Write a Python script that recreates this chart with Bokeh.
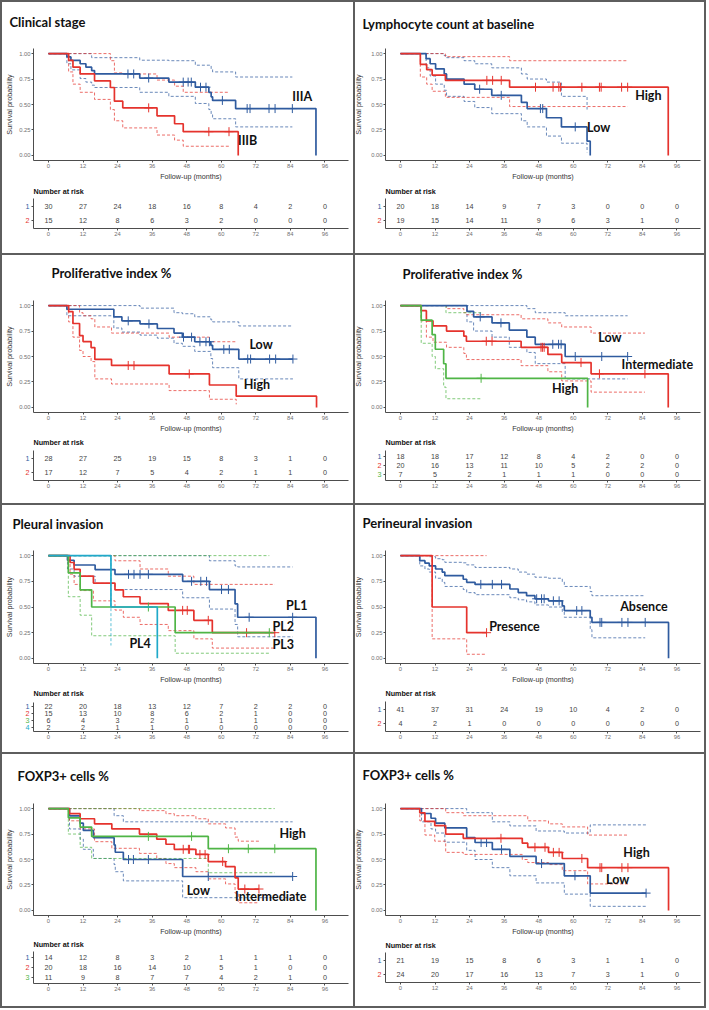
import numpy as np
from bokeh.plotting import figure
from bokeh.models import Range1d, FixedTicker, NumeralTickFormatter, Div
from bokeh.layouts import row, column
from bokeh.embed import file_html
from bokeh.resources import INLINE
from bokeh.core.properties import value

BLUE = "#2f5b9f"
RED = "#e5332d"
GREEN = "#4fb546"
CYAN = "#20a9c9"
RULE = "#5e5e5e"
AXIS = "#4d4d4d"

risk_times = [0, 12, 24, 36, 48, 60, 72, 84, 96]

# ---------------- Clinical stage ----------------
stage_iiia_time = [0, 6.4, 7.8, 11.0, 13.0, 15.0, 16.0, 31.7, 41.8, 51.0, 55.7, 56.5, 57.0, 65.0, 92.9]
stage_iiia_surv = [1.0, 0.967, 0.933, 0.900, 0.867, 0.833, 0.800, 0.760, 0.720, 0.670, 0.620, 0.575, 0.540, 0.460, 0.0]
stage_iiia_upper = [1.0, 1.0, 1.0, 1.0, 1.0, 0.96, 0.96, 0.935, 0.93, 0.886, 0.886, 0.85, 0.82, 0.77, None]
stage_iiia_lower = [1.0, 0.90, 0.84, 0.755, 0.72, 0.69, 0.667, 0.62, 0.58, 0.51, 0.45, 0.40, 0.36, 0.28, None]
stage_iiia_censor = [27.6, 29.6, 34.8, 46.8, 48.5, 49.6, 52.8, 54.7, 60.4, 69.0, 70.0, 76.6, 78.7, 84.7]

stage_iiib_time = [0, 7.0, 8.5, 11.0, 16.0, 21.5, 22.9, 25.8, 37.7, 43.8, 46.8, 65.9]
stage_iiib_surv = [1.0, 0.933, 0.867, 0.800, 0.733, 0.667, 0.533, 0.467, 0.389, 0.311, 0.233, 0.0]
stage_iiib_upper = [1.0, 1.0, 1.0, 1.0, 1.0, 0.93, 0.81, 0.80, 0.74, 0.68, 0.62, None]
stage_iiib_lower = [1.0, 0.82, 0.70, 0.62, 0.55, 0.45, 0.34, 0.27, 0.20, 0.15, 0.09, None]
stage_iiib_censor = [34.8, 55.7, 62.7]

stage_risk_iiia = [30, 27, 24, 18, 16, 8, 4, 2, 0]
stage_risk_iiib = [15, 12, 8, 6, 3, 2, 0, 0, 0]

# ---------------- Lymphocyte count at baseline ----------------
lymph_low_time = [0, 8.9, 10.3, 12.2, 15.2, 16.0, 22.1, 25.8, 31.7, 42.0, 44.0, 50.7, 55.9, 64.8, 65.9]
lymph_low_surv = [1.0, 0.95, 0.90, 0.85, 0.80, 0.75, 0.70, 0.65, 0.59, 0.52, 0.46, 0.37, 0.28, 0.14, 0.0]
lymph_low_upper = [1.0, 1.0, 1.0, 1.0, 0.98, 0.96, 0.93, 0.90, 0.86, 0.80, 0.75, 0.72, 0.58, 0.45, None]
lymph_low_lower = [1.0, 0.86, 0.78, 0.70, 0.64, 0.58, 0.53, 0.47, 0.41, 0.34, 0.28, 0.19, 0.12, 0.03, None]
lymph_low_censor = [27.5, 35.0, 48.6, 49.4, 60.7]

lymph_high_time = [0, 6.9, 9.1, 11.0, 15.6, 37.9, 93.0]
lymph_high_surv = [1.0, 0.895, 0.842, 0.789, 0.737, 0.670, 0.0]
lymph_high_upper = [1.0, 1.0, 1.0, 1.0, 0.97, 0.93, None]
lymph_high_lower = [1.0, 0.77, 0.70, 0.63, 0.57, 0.48, None]
lymph_high_censor = [30.0, 32.0, 35.0, 46.9, 53.0, 55.0, 55.6, 63.0, 69.1, 69.7, 76.8, 78.9]

lymph_risk_low = [20, 18, 14, 9, 7, 3, 0, 0, 0]
lymph_risk_high = [19, 15, 14, 11, 9, 6, 3, 1, 0]

# ---------------- Proliferative index %, two groups ----------------
prolif2_low_time = [0, 6.4, 22.7, 25.5, 31.8, 37.8, 43.6, 46.5, 50.8, 56.4, 57.0, 66.1]
prolif2_low_surv = [1.0, 0.964, 0.890, 0.850, 0.820, 0.775, 0.730, 0.690, 0.645, 0.610, 0.570, 0.475]
prolif2_low_upper = [1.0, 1.0, 1.0, 1.0, 0.975, 0.975, 0.93, 0.92, 0.89, 0.86, 0.84, 0.80]
prolif2_low_lower = [1.0, 0.90, 0.78, 0.74, 0.71, 0.68, 0.63, 0.60, 0.55, 0.48, 0.39, 0.28]
prolif2_low_censor = [27.7, 34.9, 46.9, 49.7, 52.6, 54.7, 55.9, 60.9, 62.8, 69.2, 70.2, 76.8, 78.9, 84.9]

prolif2_high_time = [0, 7.0, 8.5, 10.8, 12.0, 14.8, 16.1, 21.9, 41.9, 55.9, 65.2, 93.1]
prolif2_high_surv = [1.0, 0.941, 0.824, 0.706, 0.647, 0.588, 0.471, 0.412, 0.329, 0.220, 0.110, 0.0]
prolif2_high_upper = [1.0, 1.0, 1.0, 0.93, 0.90, 0.87, 0.79, 0.73, 0.69, 0.645, 0.645, None]
prolif2_high_lower = [1.0, 0.84, 0.69, 0.56, 0.50, 0.45, 0.28, 0.23, 0.165, 0.08, 0.03, None]
prolif2_high_censor = [27.7, 29.7, 48.9]

prolif2_risk_low = [28, 27, 25, 19, 15, 8, 3, 1, 0]
prolif2_risk_high = [17, 12, 7, 5, 4, 2, 1, 1, 0]

# ---------------- Proliferative index %, three groups ----------------
prolif3_low_time = [0, 23.1, 25.4, 31.8, 37.8, 43.9, 46.8, 57.2]
prolif3_low_surv = [1.0, 0.944, 0.889, 0.830, 0.760, 0.690, 0.620, 0.500]
prolif3_low_upper = [1.0, 1.0, 1.0, 1.0, 1.0, 0.97, 0.93, 0.90]
prolif3_low_lower = [1.0, 0.84, 0.75, 0.69, 0.59, 0.54, 0.43, 0.28]
prolif3_low_censor = [27.7, 34.9, 52.9, 54.9, 55.8, 60.7, 69.9, 78.9]

prolif3_mid_time = [0, 7.2, 9.0, 11.3, 16.0, 22.0, 22.9, 41.9, 51.2, 56.0, 66.2, 93.0]
prolif3_mid_surv = [1.0, 0.95, 0.85, 0.80, 0.75, 0.70, 0.65, 0.59, 0.52, 0.44, 0.33, 0.0]
prolif3_mid_upper = [1.0, 1.0, 1.0, 1.0, 0.97, 0.93, 0.91, 0.87, 0.83, 0.79, 0.73, None]
prolif3_mid_lower = [1.0, 0.85, 0.69, 0.64, 0.59, 0.53, 0.47, 0.41, 0.35, 0.26, 0.15, None]
prolif3_mid_censor = [29.8, 31.8, 48.8, 49.3, 49.9, 62.7, 69.1, 84.9]

prolif3_high_time = [0, 7.2, 11.0, 12.1, 15.0, 15.8, 65.0]
prolif3_high_surv = [1.0, 0.857, 0.714, 0.571, 0.429, 0.286, 0.0]
prolif3_high_upper = [1.0, 1.0, 1.0, 1.0, 1.0, 0.93, None]
prolif3_high_lower = [1.0, 0.63, 0.50, 0.38, 0.20, 0.085, None]
prolif3_high_censor = [28.0]

prolif3_risk_low = [18, 18, 17, 12, 8, 4, 2, 0, 0]
prolif3_risk_mid = [20, 16, 13, 11, 10, 5, 2, 2, 0]
prolif3_risk_high = [7, 5, 2, 1, 1, 1, 0, 0, 0]

# ---------------- Pleural invasion ----------------
pleural_pl1_time = [0, 6.6, 8.9, 16.2, 23.1, 46.6, 55.9, 64.8, 65.7, 92.9]
pleural_pl1_surv = [1.0, 0.955, 0.909, 0.864, 0.818, 0.750, 0.670, 0.530, 0.400, 0.0]
pleural_pl1_upper = [1.0, 1.0, 1.0, 1.0, 1.0, 1.0, 0.95, 0.90, 0.89, None]
pleural_pl1_lower = [1.0, 0.87, 0.80, 0.73, 0.67, 0.59, 0.48, 0.33, 0.21, None]
pleural_pl1_censor = [27.8, 29.7, 31.8, 34.7, 49.7, 52.9, 54.9, 60.1, 62.5, 69.7, 84.8]

pleural_pl2_time = [0, 7.5, 8.9, 11.0, 15.6, 23.1, 26.0, 31.8, 41.6, 50.5, 56.9]
pleural_pl2_surv = [1.0, 0.933, 0.867, 0.800, 0.733, 0.667, 0.600, 0.533, 0.467, 0.370, 0.250]
pleural_pl2_upper = [1.0, 1.0, 1.0, 1.0, 1.0, 0.95, 0.95, 0.87, 0.80, 0.72, 0.72]
pleural_pl2_lower = [1.0, 0.82, 0.72, 0.66, 0.56, 0.47, 0.40, 0.33, 0.27, 0.19, 0.10]
pleural_pl2_censor = [46.6, 48.2, 55.5, 68.8, 78.6]

pleural_pl3_time = [0, 6.9, 11.0, 15.0, 44.0]
pleural_pl3_surv = [1.0, 0.833, 0.667, 0.500, 0.250]
pleural_pl3_upper = [1.0, 1.0, 1.0, 1.0, 1.0]
pleural_pl3_lower = [1.0, 0.60, 0.42, 0.22, 0.05]
pleural_pl3_censor = [34.7, 76.7]

pleural_pl4_time = [0, 21.7, 37.8]
pleural_pl4_surv = [1.0, 0.5, 0.0]
pleural_pl4_upper = [1.0, 1.0, None]
pleural_pl4_lower = [1.0, 0.125, None]
pleural_pl4_censor = []

pleural_risk_pl1 = [22, 20, 18, 13, 12, 7, 2, 2, 0]
pleural_risk_pl2 = [15, 13, 10, 8, 6, 2, 1, 0, 0]
pleural_risk_pl3 = [6, 4, 3, 2, 1, 1, 1, 0, 0]
pleural_risk_pl4 = [2, 2, 1, 1, 0, 0, 0, 0, 0]

# ---------------- Perineural invasion ----------------
perineural_abs_time = [0, 6.7, 8.5, 10.0, 12.2, 14.5, 15.4, 21.8, 23.0, 25.9, 38.0, 40.9, 43.8, 46.7,
                       51.4, 56.2, 56.9, 65.9, 66.5, 93.1]
perineural_abs_surv = [1.0, 0.951, 0.927, 0.900, 0.870, 0.840, 0.805, 0.770, 0.740, 0.720, 0.675, 0.640,
                       0.610, 0.580, 0.560, 0.510, 0.465, 0.400, 0.350, 0.0]
perineural_abs_upper = [1.0, 1.0, 1.0, 0.99, 0.97, 0.96, 0.935, 0.93, 0.91, 0.885, 0.87, 0.84, 0.82,
                        0.79, 0.78, 0.745, 0.70, 0.65, 0.61, None]
perineural_abs_lower = [1.0, 0.90, 0.87, 0.84, 0.78, 0.74, 0.70, 0.67, 0.64, 0.62, 0.59, 0.57, 0.55,
                        0.52, 0.50, 0.45, 0.40, 0.28, 0.20, None]
perineural_abs_censor = [27.9, 31.9, 35.1, 47.3, 49.0, 49.9, 53.1, 55.1, 61.2, 63.0, 69.3, 69.9,
                         76.9, 79.0, 85.0]

perineural_pres_time = [0, 11.0, 23.0]
perineural_pres_surv = [1.0, 0.5, 0.25]
perineural_pres_upper = [1.0, 1.0, 1.0]
perineural_pres_lower = [1.0, 0.19, 0.04]
perineural_pres_censor = [29.9]

perineural_risk_abs = [41, 37, 31, 24, 19, 10, 4, 2, 0]
perineural_risk_pres = [4, 2, 1, 0, 0, 0, 0, 0, 0]

# ---------------- FOXP3+ cells %, three groups ----------------
foxp3a_low_time = [0, 7.3, 11.0, 12.1, 15.6, 22.8, 23.2, 26.0, 46.6]
foxp3a_low_surv = [1.0, 0.929, 0.857, 0.786, 0.714, 0.643, 0.571, 0.500, 0.333]
foxp3a_low_upper = [1.0, 1.0, 1.0, 1.0, 1.0, 0.93, 0.93, 0.87, 0.87]
foxp3a_low_lower = [1.0, 0.80, 0.70, 0.60, 0.51, 0.45, 0.38, 0.29, 0.125]
foxp3a_low_censor = [27.8, 29.5, 34.7, 55.5, 84.8]

foxp3a_mid_time = [0, 7.3, 11.0, 16.0, 22.0, 31.6, 37.6, 40.8, 43.7, 51.2, 55.5, 61.5, 64.8, 65.9]
foxp3a_mid_surv = [1.0, 0.95, 0.90, 0.85, 0.80, 0.75, 0.70, 0.65, 0.60, 0.55, 0.48, 0.43, 0.32, 0.21]
foxp3a_mid_upper = [1.0, 1.0, 1.0, 1.0, 1.0, 0.98, 0.98, 0.95, 0.93, 0.90, 0.85, 0.81, 0.72, 0.68]
foxp3a_mid_lower = [1.0, 0.88, 0.80, 0.675, 0.61, 0.56, 0.51, 0.46, 0.42, 0.38, 0.31, 0.26, 0.17, 0.075]
foxp3a_mid_censor = [46.8, 48.6, 49.0, 52.6, 54.4, 60.5, 68.2, 73.1]

foxp3a_high_time = [0, 6.9, 11.0, 15.0, 55.5, 92.9]
foxp3a_high_surv = [1.0, 0.909, 0.818, 0.727, 0.606, 0.0]
foxp3a_high_upper = [1.0, 1.0, 1.0, 1.0, 1.0, None]
foxp3a_high_lower = [1.0, 0.75, 0.62, 0.51, 0.37, None]
foxp3a_high_censor = [34.7, 49.7, 62.5, 69.4, 78.6]

foxp3a_risk_low = [14, 12, 8, 3, 2, 1, 1, 1, 0]
foxp3a_risk_mid = [20, 18, 16, 14, 10, 5, 1, 0, 0]
foxp3a_risk_high = [11, 9, 8, 7, 7, 4, 2, 1, 0]

# ---------------- FOXP3+ cells %, two groups ----------------
foxp3b_low_time = [0, 7.3, 10.6, 12.2, 15.4, 23.0, 25.9, 31.9, 38.0, 47.1, 56.9, 65.9]
foxp3b_low_surv = [1.0, 0.952, 0.905, 0.857, 0.810, 0.714, 0.667, 0.600, 0.530, 0.460, 0.340, 0.170]
foxp3b_low_upper = [1.0, 1.0, 1.0, 1.0, 1.0, 0.96, 0.96, 0.87, 0.83, 0.78, 0.76, 0.84]
foxp3b_low_lower = [1.0, 0.87, 0.80, 0.76, 0.67, 0.59, 0.50, 0.42, 0.34, 0.27, 0.16, 0.04]
foxp3b_low_censor = [28.0, 29.9, 35.1, 49.0, 60.6, 85.3]

foxp3b_high_time = [0, 6.7, 8.5, 11.9, 15.7, 21.8, 42.3, 44.2, 51.4, 56.2, 65.0, 93.1]
foxp3b_high_surv = [1.0, 0.958, 0.875, 0.833, 0.750, 0.708, 0.660, 0.620, 0.570, 0.510, 0.420, 0.0]
foxp3b_high_upper = [1.0, 1.0, 1.0, 1.0, 0.96, 0.93, 0.93, 0.88, 0.85, 0.82, 0.74, None]
foxp3b_high_lower = [1.0, 0.88, 0.74, 0.68, 0.57, 0.55, 0.50, 0.47, 0.45, 0.39, 0.26, None]
foxp3b_high_censor = [34.9, 46.7, 50.2, 53.1, 55.1, 63.0, 69.3, 69.9, 76.9, 79.0]

foxp3b_risk_low = [21, 19, 15, 8, 6, 3, 1, 1, 0]
foxp3b_risk_high = [24, 20, 17, 16, 13, 7, 3, 1, 0]

# ---------------- drawing helpers ----------------
XMIN, XMAX = -5.2, 104.2          # plotted time span (months)
FRAME_W = 315                     # pixel width of the time axis
PX_PER_MONTH = FRAME_W / (XMAX - XMIN)
SURV_BOTTOM = 22
TICK_FONT = "5.8px"
SMALL_FONT = "7.2px"
HEAD_FONT = "Lato"


def stratum(time, surv, upper, lower, censor, color):
    return dict(time=time, surv=surv, upper=upper, lower=lower, censor=censor, color=color)


def km_xy(time, surv, censor):
    end = max([time[-1]] + list(censor))
    return list(time) + [end], list(surv) + [surv[-1]]


def ci_xy(time, surv, censor, band):
    stop = max([t for t, s in zip(time, surv) if s > 0] + list(censor))
    xs, ys = [], []
    for t, b in zip(time, band):
        if t <= stop and b is not None:
            xs.append(t)
            ys.append(b)
    xs.append(stop)
    ys.append(ys[-1])
    return xs, ys


def censor_y(time, surv, censor):
    idx = np.searchsorted(np.asarray(time), np.asarray(censor), side="right") - 1
    return [surv[i] for i in idx]


def style_axis(ax):
    ax.axis_line_color = AXIS
    ax.axis_line_width = 1
    ax.major_tick_line_color = AXIS
    ax.major_tick_line_width = 1
    ax.major_tick_out = 2
    ax.major_tick_in = 0
    ax.minor_tick_line_color = None
    ax.major_label_text_font = "Liberation Sans"
    ax.major_label_text_font_size = TICK_FONT
    ax.major_label_text_color = "#707070"
    ax.major_label_standoff = 1


def canvas_fig(width, height, left, y_lo, y_hi):
    """A figure whose drawing area fills the whole canvas; axes sit at fixed data positions."""
    x_lo = XMIN - left / PX_PER_MONTH
    x_hi = XMIN + (width - left) / PX_PER_MONTH
    p = figure(width=width, height=height, x_range=Range1d(x_lo, x_hi),
               y_range=Range1d(y_lo, y_hi), output_backend="svg", toolbar_location=None,
               min_border_left=0, min_border_right=0, min_border_top=0, min_border_bottom=0)
    p.grid.visible = False
    p.outline_line_color = None
    p.background_fill_color = "white"
    p.border_fill_color = "white"
    return p, x_lo


def km_panel(width, height, left, geom, title, strata, tags, risk):
    top, fh = geom["top"], geom["fh"]
    split = top + fh + SURV_BOTTOM
    unit = fh / 1.1

    # ---- survival curves ----
    y_hi = 1.05 + top / unit
    y_lo = -0.05 - SURV_BOTTOM / unit
    ps, x_lo = canvas_fig(width, split, left, y_lo, y_hi)
    xa, ya = ps.xaxis[0], ps.yaxis[0]
    style_axis(xa)
    style_axis(ya)
    xa.fixed_location = -0.05
    xa.bounds = (XMIN, XMAX)
    ya.fixed_location = XMIN
    ya.bounds = (-0.05, 1.05)
    xa.ticker = FixedTicker(ticks=risk_times)
    ya.ticker = FixedTicker(ticks=[0, 0.25, 0.5, 0.75, 1.0])
    ya.formatter = NumeralTickFormatter(format="0.00")
    xa.axis_label = "Follow-up (months)"
    ya.axis_label = "Survival probability"
    for ax in (xa, ya):
        ax.axis_label_text_font = "Liberation Sans"
        ax.axis_label_text_font_size = SMALL_FONT
        ax.axis_label_text_font_style = "normal"
        ax.axis_label_text_color = "#333333"
    xa.axis_label_standoff = 1
    ya.axis_label_standoff = geom["ylab_gap"]

    for st in strata:
        for band in (st["upper"], st["lower"]):
            bx, by = ci_xy(st["time"], st["surv"], st["censor"], band)
            ps.step(bx, by, mode="after", line_color=st["color"], line_width=0.8,
                    line_dash="3 2", line_alpha=0.9)
    for st in strata:
        kx, ky = km_xy(st["time"], st["surv"], st["censor"])
        ps.step(kx, ky, mode="after", line_color=st["color"], line_width=1.7)
        if st["censor"]:
            ps.scatter(st["censor"], censor_y(st["time"], st["surv"], st["censor"]),
                       marker="cross", size=9, line_color=st["color"], line_width=1)

    ps.text(x=tags["x"], y=tags["y"], text=tags["text"], text_font=value(HEAD_FONT),
            text_font_style="bold", text_font_size="12.5px", text_align="left",
            text_baseline="middle", text_color="#111111")

    ps.text(x=[x_lo + geom["title_x"] / PX_PER_MONTH], y=[y_hi - geom["title_base"] / unit],
            text=[title], text_font=value(HEAD_FONT), text_font_style="bold",
            text_font_size="13px", text_align="left", text_baseline="alphabetic",
            text_color="#111111")

    # ---- number-at-risk table ----
    n = len(risk)
    rtop, rh = geom["rtop"], geom["rh"]
    rheight = height - split
    u = rh / (n + 0.2)
    r_top = 0.4 - rtop / u
    r_bot = n + 0.6 + (rheight - rtop - rh) / u
    pr, _ = canvas_fig(width, rheight, left, r_bot, r_top)
    xa, ya = pr.xaxis[0], pr.yaxis[0]
    style_axis(xa)
    style_axis(ya)
    xa.fixed_location = n + 0.6
    xa.bounds = (XMIN, XMAX)
    ya.fixed_location = XMIN
    ya.bounds = (0.4, n + 0.6)
    xa.ticker = FixedTicker(ticks=risk_times)
    ya.ticker = FixedTicker(ticks=list(range(1, n + 1)))
    ya.major_label_overrides = {i: "" for i in range(1, n + 1)}

    xs, ys, txt = [], [], []
    for k, counts in enumerate(risk, start=1):
        xs += risk_times
        ys += [k] * len(risk_times)
        txt += [str(c) for c in counts]
    pr.text(x=xs, y=ys, text=txt, text_font=value("Liberation Sans"), text_font_size=SMALL_FONT,
            text_align="center", text_baseline="middle", text_color="#444444")

    rows = list(range(1, n + 1))
    pr.text(x=[XMIN - 4 / PX_PER_MONTH] * n, y=rows, text=[str(i) for i in rows],
            text_color=[st["color"] for st in strata], text_font=value("Liberation Sans"),
            text_font_size=SMALL_FONT, text_align="right", text_baseline="middle")
    pr.text(x=[XMIN], y=[0.4 - geom["nar_up"] / u], text=["Number at risk"],
            text_font=value("Liberation Sans"), text_font_style="bold",
            text_font_size=SMALL_FONT, text_align="left", text_baseline="middle",
            text_color="#111111")
    return column(ps, pr)


def rule(w, h):
    return Div(text="", width=w, height=h, margin=0, styles={"background-color": RULE})


LW, RW = 351, 349
LL, RL = 31, 30

p1 = km_panel(LW, 251, LL,
              dict(top=46, fh=112, rtop=16, rh=30, nar_up=7, title_x=7, title_base=19, ylab_gap=2),
              "Clinical stage",
              [stratum(stage_iiia_time, stage_iiia_surv, stage_iiia_upper, stage_iiia_lower, stage_iiia_censor, BLUE),
               stratum(stage_iiib_time, stage_iiib_surv, stage_iiib_upper, stage_iiib_lower, stage_iiib_censor, RED)],
              dict(x=[84.7, 65.8], y=[0.58, 0.15], text=["IIIA", "IIIB"]),
              [stage_risk_iiia, stage_risk_iiib])

p2 = km_panel(RW, 251, RL,
              dict(top=46, fh=112, rtop=16, rh=30, nar_up=7, title_x=7, title_base=21, ylab_gap=5),
              "Lymphocyte count at baseline",
              [stratum(lymph_low_time, lymph_low_surv, lymph_low_upper, lymph_low_lower, lymph_low_censor, BLUE),
               stratum(lymph_high_time, lymph_high_surv, lymph_high_upper, lymph_high_lower, lymph_high_censor, RED)],
              dict(x=[81.5, 64.8], y=[0.59, 0.275], text=["High", "Low"]),
              [lymph_risk_low, lymph_risk_high])

p3 = km_panel(LW, 248, LL,
              dict(top=45, fh=112, rtop=16, rh=30, nar_up=8, title_x=49, title_base=17, ylab_gap=2),
              "Proliferative index %",
              [stratum(prolif2_low_time, prolif2_low_surv, prolif2_low_upper, prolif2_low_lower, prolif2_low_censor, BLUE),
               stratum(prolif2_high_time, prolif2_high_surv, prolif2_high_upper, prolif2_high_lower, prolif2_high_censor, RED)],
              dict(x=[69.8, 67.8], y=[0.614, 0.222], text=["Low", "High"]),
              [prolif2_risk_low, prolif2_risk_high])

p4 = km_panel(RW, 248, RL,
              dict(top=45, fh=112, rtop=16, rh=30, nar_up=8, title_x=47, title_base=18, ylab_gap=5),
              "Proliferative index %",
              [stratum(prolif3_low_time, prolif3_low_surv, prolif3_low_upper, prolif3_low_lower, prolif3_low_censor, BLUE),
               stratum(prolif3_mid_time, prolif3_mid_surv, prolif3_mid_upper, prolif3_mid_lower, prolif3_mid_censor, RED),
               stratum(prolif3_high_time, prolif3_high_surv, prolif3_high_upper, prolif3_high_lower, prolif3_high_censor, GREEN)],
              dict(x=[68.7, 76.8, 52.6], y=[0.69, 0.418, 0.19], text=["Low", "Intermediate", "High"]),
              [prolif3_risk_low, prolif3_risk_mid, prolif3_risk_high])

p5 = km_panel(LW, 247, LL,
              dict(top=45, fh=113, rtop=17, rh=29, nar_up=9, title_x=10, title_base=18, ylab_gap=2),
              "Pleural invasion",
              [stratum(pleural_pl1_time, pleural_pl1_surv, pleural_pl1_upper, pleural_pl1_lower, pleural_pl1_censor, BLUE),
               stratum(pleural_pl2_time, pleural_pl2_surv, pleural_pl2_upper, pleural_pl2_lower, pleural_pl2_censor, RED),
               stratum(pleural_pl3_time, pleural_pl3_surv, pleural_pl3_upper, pleural_pl3_lower, pleural_pl3_censor, GREEN),
               stratum(pleural_pl4_time, pleural_pl4_surv, pleural_pl4_upper, pleural_pl4_lower, pleural_pl4_censor, CYAN)],
              dict(x=[82.5, 77.8, 77.8, 28.1], y=[0.516, 0.313, 0.135, 0.145], text=["PL1", "PL2", "PL3", "PL4"]),
              [pleural_risk_pl1, pleural_risk_pl2, pleural_risk_pl3, pleural_risk_pl4])

p6 = km_panel(RW, 247, RL,
              dict(top=45, fh=113, rtop=16, rh=30, nar_up=8, title_x=7, title_base=17, ylab_gap=5),
              "Perineural invasion",
              [stratum(perineural_abs_time, perineural_abs_surv, perineural_abs_upper, perineural_abs_lower, perineural_abs_censor, BLUE),
               stratum(perineural_pres_time, perineural_pres_surv, perineural_pres_upper, perineural_pres_lower, perineural_pres_censor, RED)],
              dict(x=[76.3, 30.8], y=[0.503, 0.308], text=["Absence", "Presence"]),
              [perineural_risk_abs, perineural_risk_pres])

p7 = km_panel(LW, 252, LL,
              dict(top=49, fh=112, rtop=14, rh=32, nar_up=7, title_x=15, title_base=21, ylab_gap=2),
              "FOXP3+ cells %",
              [stratum(foxp3a_low_time, foxp3a_low_surv, foxp3a_low_upper, foxp3a_low_lower, foxp3a_low_censor, BLUE),
               stratum(foxp3a_mid_time, foxp3a_mid_surv, foxp3a_mid_upper, foxp3a_mid_lower, foxp3a_mid_censor, RED),
               stratum(foxp3a_high_time, foxp3a_high_surv, foxp3a_high_upper, foxp3a_high_lower, foxp3a_high_censor, GREEN)],
              dict(x=[80.2, 48.0, 64.8], y=[0.757, 0.197, 0.134], text=["High", "Low", "Intermediate"]),
              [foxp3a_risk_low, foxp3a_risk_mid, foxp3a_risk_high])

p8 = km_panel(RW, 252, RL,
              dict(top=49, fh=112, rtop=15, rh=30, nar_up=7, title_x=7, title_base=20, ylab_gap=5),
              "FOXP3+ cells %",
              [stratum(foxp3b_low_time, foxp3b_low_surv, foxp3b_low_upper, foxp3b_low_lower, foxp3b_low_censor, BLUE),
               stratum(foxp3b_high_time, foxp3b_high_surv, foxp3b_high_upper, foxp3b_high_lower, foxp3b_high_censor, RED)],
              dict(x=[77.4, 71.4], y=[0.564, 0.30], text=["High", "Low"]),
              [foxp3b_risk_low, foxp3b_risk_high])

FULL_W = 2 + LW + 2 + RW + 2


def panel_row(left_panel, right_panel, h):
    return row(rule(2, h), left_panel, rule(2, h), right_panel, rule(2, h))


page = column(
    rule(FULL_W, 2),
    panel_row(p1, p2, 251),
    rule(FULL_W, 2),
    panel_row(p3, p4, 248),
    rule(FULL_W, 2),
    panel_row(p5, p6, 247),
    rule(FULL_W, 2),
    panel_row(p7, p8, 252),
    rule(FULL_W, 2),
)

open("out.html", "w").write(file_html(page, INLINE, title="Kaplan-Meier survival by clinicopathological factors"))
